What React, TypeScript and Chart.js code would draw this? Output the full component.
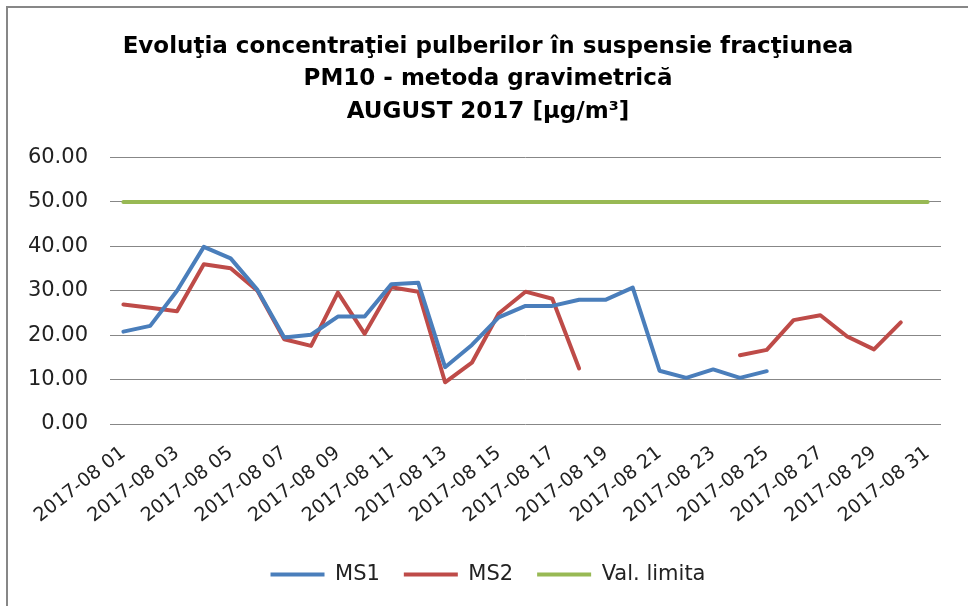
import React, { useEffect, useRef } from "react";
import { Chart, registerables } from "chart.js";

Chart.register(...registerables);

const dates: string[] = [
  "2017-08 01", "2017-08 02", "2017-08 03", "2017-08 04", "2017-08 05", "2017-08 06",
  "2017-08 07", "2017-08 08", "2017-08 09", "2017-08 10", "2017-08 11", "2017-08 12",
  "2017-08 13", "2017-08 14", "2017-08 15", "2017-08 16", "2017-08 17", "2017-08 18",
  "2017-08 19", "2017-08 20", "2017-08 21", "2017-08 22", "2017-08 23", "2017-08 24",
  "2017-08 25", "2017-08 26", "2017-08 27", "2017-08 28", "2017-08 29", "2017-08 30",
  "2017-08 31",
];

const ms1: (number | null)[] = [
  20.8, 22.1, 30.0, 39.9, 37.3, 30.2, 19.5, 20.1, 24.2, 24.2, 31.5, 31.8,
  12.8, 17.8, 24.0, 26.6, 26.6, 28.0, 28.0, 30.7, 12.0, 10.4, 12.3, 10.4,
  11.9, null, null, null, null, null, null,
];

const ms2: (number | null)[] = [
  26.9, 26.2, 25.4, 36.0, 35.1, 30.0, 19.1, 17.6, 29.6, 20.3, 30.8, 29.8,
  9.4, 13.8, 24.9, 29.8, 28.2, 12.5, null, null, null, null, null, 15.5,
  16.7, 23.4, 24.5, 19.7, 16.8, 22.9, null,
];

const limit: number[] = [
  50, 50, 50, 50, 50, 50, 50, 50, 50, 50, 50, 50, 50, 50, 50, 50,
  50, 50, 50, 50, 50, 50, 50, 50, 50, 50, 50, 50, 50, 50, 50,
];

const seriesNames: string[] = ["MS1", "MS2", "Val. limita"];
const titleLines: string[] = [
  "Evoluţia concentraţiei pulberilor în suspensie fracţiunea",
  "PM10 - metoda gravimetrică",
  "AUGUST 2017 [µg/m³]",
];

const FONT = "'DejaVu Sans', sans-serif";

const frame = {
  id: "frame",
  beforeDraw(chart: any) {
    const { ctx, width, height } = chart;
    ctx.save();
    ctx.fillStyle = "#ffffff";
    ctx.fillRect(0, 0, width, height);
    ctx.strokeStyle = "#878787";
    ctx.lineWidth = 2;
    ctx.beginPath();
    ctx.moveTo(7, height);
    ctx.lineTo(7, 7);
    ctx.lineTo(width, 7);
    ctx.stroke();
    ctx.restore();
  },
};

export default function App() {
  const ref = useRef<HTMLCanvasElement | null>(null);

  useEffect(() => {
    if (!ref.current) return;
    const lineCommon = {
      pointRadius: 0,
      pointHoverRadius: 0,
      borderWidth: 4,
      borderCapStyle: "round" as const,
      borderJoinStyle: "round" as const,
      tension: 0,
      spanGaps: false,
      fill: false,
    };
    const chart = new Chart(ref.current, {
      type: "line",
      data: {
        labels: dates,
        datasets: [
          { ...lineCommon, label: seriesNames[0], data: ms1, borderColor: "#4A7EBB", backgroundColor: "#4A7EBB" },
          { ...lineCommon, label: seriesNames[1], data: ms2, borderColor: "#BE4B48", backgroundColor: "#BE4B48" },
          { ...lineCommon, label: seriesNames[2], data: limit, borderColor: "#98B954", backgroundColor: "#98B954" },
        ],
      },
      options: {
        responsive: false,
        animation: false,
        devicePixelRatio: 1,
        layout: { padding: { left: 8, top: 8, right: 0, bottom: 11 } },
        plugins: {
          tooltip: { enabled: false },
          title: {
            display: true,
            text: titleLines,
            color: "#000000",
            font: { family: FONT, size: 23, weight: "bold", lineHeight: 1.413 },
            padding: { top: 22.75, bottom: 29.35 },
          },
          legend: {
            display: true,
            position: "bottom",
            labels: {
              usePointStyle: true,
              pointStyle: "line",
              pointStyleWidth: 54,
              boxHeight: 4,
              padding: 24,
              color: "#222222",
              font: { family: FONT, size: 21 },
            },
          },
        },
        scales: {
          x: {
            type: "category",
            offset: true,
            grid: { display: false },
            border: { display: false },
            ticks: {
              autoSkip: false,
              minRotation: 38,
              maxRotation: 38,
              padding: 10,
              color: "#222222",
              font: { family: FONT, size: 19 },
              callback: (_v: any, i: number) => (i % 2 === 0 ? dates[i] : ""),
            },
            afterFit: (s: any) => {
              s.height = 116;
            },
          },
          y: {
            min: 0,
            max: 60,
            grid: { color: "#878787", lineWidth: 1, drawTicks: false },
            border: { display: false },
            ticks: {
              stepSize: 10,
              padding: 22,
              color: "#222222",
              font: { family: FONT, size: 21 },
              callback: (v: any) => Number(v).toFixed(2),
            },
            afterFit: (s: any) => {
              s.width = 102;
            },
          },
          yRight: {
            position: "right",
            min: 0,
            max: 60,
            grid: { display: false, drawTicks: false },
            border: { display: false },
            ticks: { display: false },
            afterFit: (s: any) => {
              s.width = 27;
            },
          },
        },
      },
      plugins: [frame],
    });
    return () => chart.destroy();
  }, []);

  return (
    <div style={{ position: "fixed", left: 0, top: 0, width: 968, height: 606, background: "#fff" }}>
      <canvas ref={ref} width={968} height={606} style={{ display: "block" }} />
    </div>
  );
}
